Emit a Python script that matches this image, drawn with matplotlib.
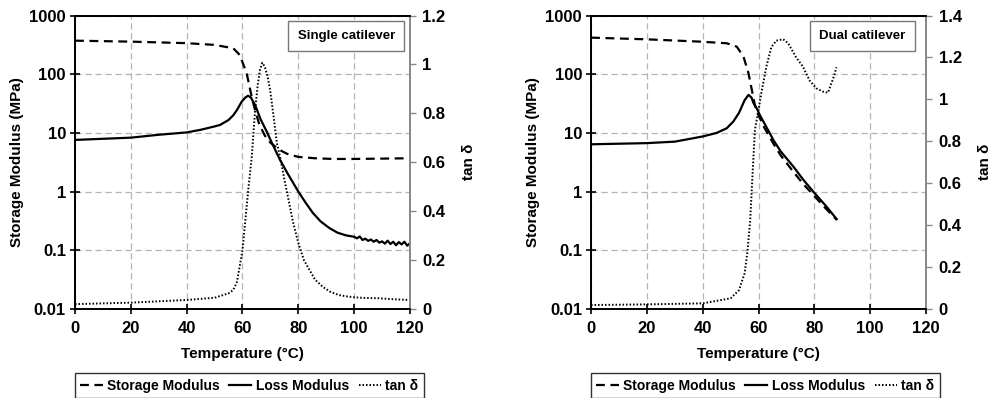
import numpy as np
import matplotlib
matplotlib.use("Agg")
import matplotlib.pyplot as plt

plt.rcParams['font.family'] = ['Liberation Sans', 'DejaVu Sans']
plt.rcParams['font.weight'] = 'bold'

# ---- single cantilever ----
s_temp_E1 = [0, 20, 40, 50, 56.7, 59, 61.5, 63.3, 64.5, 66, 68, 70, 73.4, 76, 80, 86, 92.5, 100, 110, 120]
s_E1 = [373, 359, 338, 316, 277, 213, 104, 41, 24.6, 14, 9, 6.8, 5.1, 4.4, 3.9, 3.7, 3.6, 3.6, 3.65, 3.7]

s_temp_E2 = [0, 20, 30, 40, 45, 50, 52, 55, 56.7, 58, 59.7, 61, 62, 63, 64.5, 66.5, 68.7, 70.5, 73.4, 76,
             78, 80, 82.5, 85.1, 88, 91.1, 94, 97, 100, 101, 102, 103, 104, 105, 106, 107, 108, 109, 110,
             111, 112, 113, 114, 115, 116, 117, 118, 119, 120]
s_E2 = [7.6, 8.3, 9.3, 10.2, 11.3, 12.9, 13.7, 16.6, 20, 24.5, 34, 40, 43, 40, 30, 17, 10.5, 6.8, 3.5, 2.1,
        1.45, 1.0, 0.66, 0.44, 0.31, 0.24, 0.2, 0.18, 0.17, 0.16, 0.172, 0.15, 0.158, 0.145, 0.153, 0.14, 0.15,
        0.135, 0.142, 0.13, 0.146, 0.128, 0.14, 0.122, 0.138, 0.126, 0.14, 0.12, 0.132]

s_temp_tan = [0, 20, 40, 50, 55, 56.7, 58, 60, 61, 62, 63.3, 64.5, 65.5, 66.3, 67.1, 68, 69, 69.9, 71,
              72.3, 73.5, 75, 76.5, 78, 80, 82, 84, 86, 88.8, 91.5, 94.6, 97, 100, 104, 108.9, 114, 119.6]
s_tan = [0.02, 0.026, 0.037, 0.046, 0.064, 0.078, 0.11, 0.24, 0.36, 0.48, 0.62, 0.81, 0.92, 0.98, 1.007,
         0.99, 0.95, 0.895, 0.8, 0.68, 0.62, 0.53, 0.446, 0.36, 0.27, 0.2, 0.16, 0.12, 0.09, 0.07, 0.057,
         0.052, 0.048, 0.045, 0.044, 0.04, 0.037]

# ---- dual cantilever ----
d_temp_E1 = [0, 20, 39, 48.6, 52.2, 54.6, 56.4, 57.6, 58.8, 60, 62, 65.3, 68, 72.4, 76, 79.6, 84, 88]
d_E1 = [420, 393, 359, 337, 295, 200, 104, 54, 28, 20, 12.5, 6.6, 4.1, 2.2, 1.35, 0.88, 0.52, 0.33]

d_temp_E2 = [0, 20, 30, 40, 45, 48.6, 51, 53, 55, 56.4, 57.5, 58.1, 59.4, 60.5, 62.4, 65.3, 68, 72.4,
             76, 79.6, 84, 88]
d_E2 = [6.4, 6.7, 7.1, 8.7, 10, 12, 15.7, 22, 36, 44.5, 40, 33, 26, 20, 13.7, 7.6, 4.8, 2.7, 1.6, 1.0,
        0.58, 0.34]

d_temp_tan = [0, 20, 40, 50, 53, 55, 56, 57, 58, 58.7, 60, 61, 62.8, 64.6, 66.4, 68.8, 70.6, 73.5, 75.9,
              78.3, 80.7, 83.1, 84.9, 86.1, 87, 87.9]
d_tan = [0.019, 0.022, 0.027, 0.051, 0.09, 0.17, 0.27, 0.42, 0.68, 0.854, 0.95, 1.03, 1.156, 1.25, 1.28,
         1.287, 1.268, 1.2, 1.156, 1.09, 1.053, 1.037, 1.032, 1.077, 1.11, 1.153]

x_ticks = [0, 20, 40, 60, 80, 100, 120]
y_ticks = [0.01, 0.1, 1, 10, 100, 1000]
y_ticklabels = ['0.01', '0.1', '1', '10', '100', '1000']

panels = [
    dict(left=0.0756, E1=(s_temp_E1, s_E1), E2=(s_temp_E2, s_E2), tan=(s_temp_tan, s_tan),
         tanmax=1.2, tanticks=[0, 0.2, 0.4, 0.6, 0.8, 1, 1.2], title='Single catilever'),
    dict(left=0.5958, E1=(d_temp_E1, d_E1), E2=(d_temp_E2, d_E2), tan=(d_temp_tan, d_tan),
         tanmax=1.4, tanticks=[0, 0.2, 0.4, 0.6, 0.8, 1, 1.2, 1.4], title='Dual catilever'),
]

fig = plt.figure(figsize=(9.92, 3.98), dpi=100)

for p in panels:
    ax = fig.add_axes([p['left'], 0.2236, 0.3377, 0.7374])
    ax2 = ax.twinx()

    l1, = ax.plot(*p['E1'], color='black', lw=1.6, linestyle=(0, (4, 2.5)), label='Storage Modulus')
    l2, = ax.plot(*p['E2'], color='black', lw=1.6, label='Loss Modulus')
    l3, = ax2.plot(*p['tan'], color='black', lw=1.4, linestyle=(0, (0.8, 1.0)), label='tan δ')

    ax.set_yscale('log')
    ax.set_xlim(0, 120)
    ax.set_ylim(0.01, 1000)
    ax.set_xticks(x_ticks)
    ax.set_xticklabels([str(t) for t in x_ticks])
    ax.set_yticks(y_ticks)
    ax.set_yticklabels(y_ticklabels)
    ax.minorticks_off()
    ax.grid(True, color='#b5b5b5', linestyle=(0, (5, 3)), lw=0.9)
    ax.set_axisbelow(True)

    ax2.set_ylim(0, p['tanmax'])
    ax2.set_yticks(p['tanticks'])
    ax2.set_yticklabels([('%g' % t) for t in p['tanticks']])

    for a in (ax, ax2):
        for s in a.spines.values():
            s.set_linewidth(1.3)
        a.spines['right'].set_color('#8a8a8a')
    ax.tick_params(direction='inout', length=7, width=1.2, labelsize=12, pad=3)
    ax.tick_params(axis='x', pad=5)
    ax2.tick_params(direction='out', length=4, width=1.0, color='#8a8a8a', labelsize=12, pad=5)

    ax.set_xlabel('Temperature (°C)', fontsize=11, fontweight='bold', labelpad=8)
    ax.set_ylabel('Storage Modulus (MPa)', fontsize=11, fontweight='bold', labelpad=4)
    ax2.set_ylabel('tan δ', fontsize=11, fontweight='bold', labelpad=12)

    ax.text(0.81, 0.93, p['title'], transform=ax.transAxes, ha='center', va='center',
            fontsize=9.5, fontweight='bold',
            bbox=dict(boxstyle='square,pad=0.7', fc='white', ec='#777777', lw=1))

    leg = ax.legend([l1, l2, l3], ['Storage Modulus', 'Loss Modulus', 'tan δ'],
                    loc='center', bbox_to_anchor=(0.52, -0.262), ncol=3, fontsize=10,
                    handlelength=1.6, handletextpad=0.3, columnspacing=0.7,
                    frameon=True, fancybox=False, borderpad=0.4, borderaxespad=0)
    leg.get_frame().set_edgecolor('black')
    leg.get_frame().set_linewidth(1.0)

fig.savefig('out.png', dpi=100)
